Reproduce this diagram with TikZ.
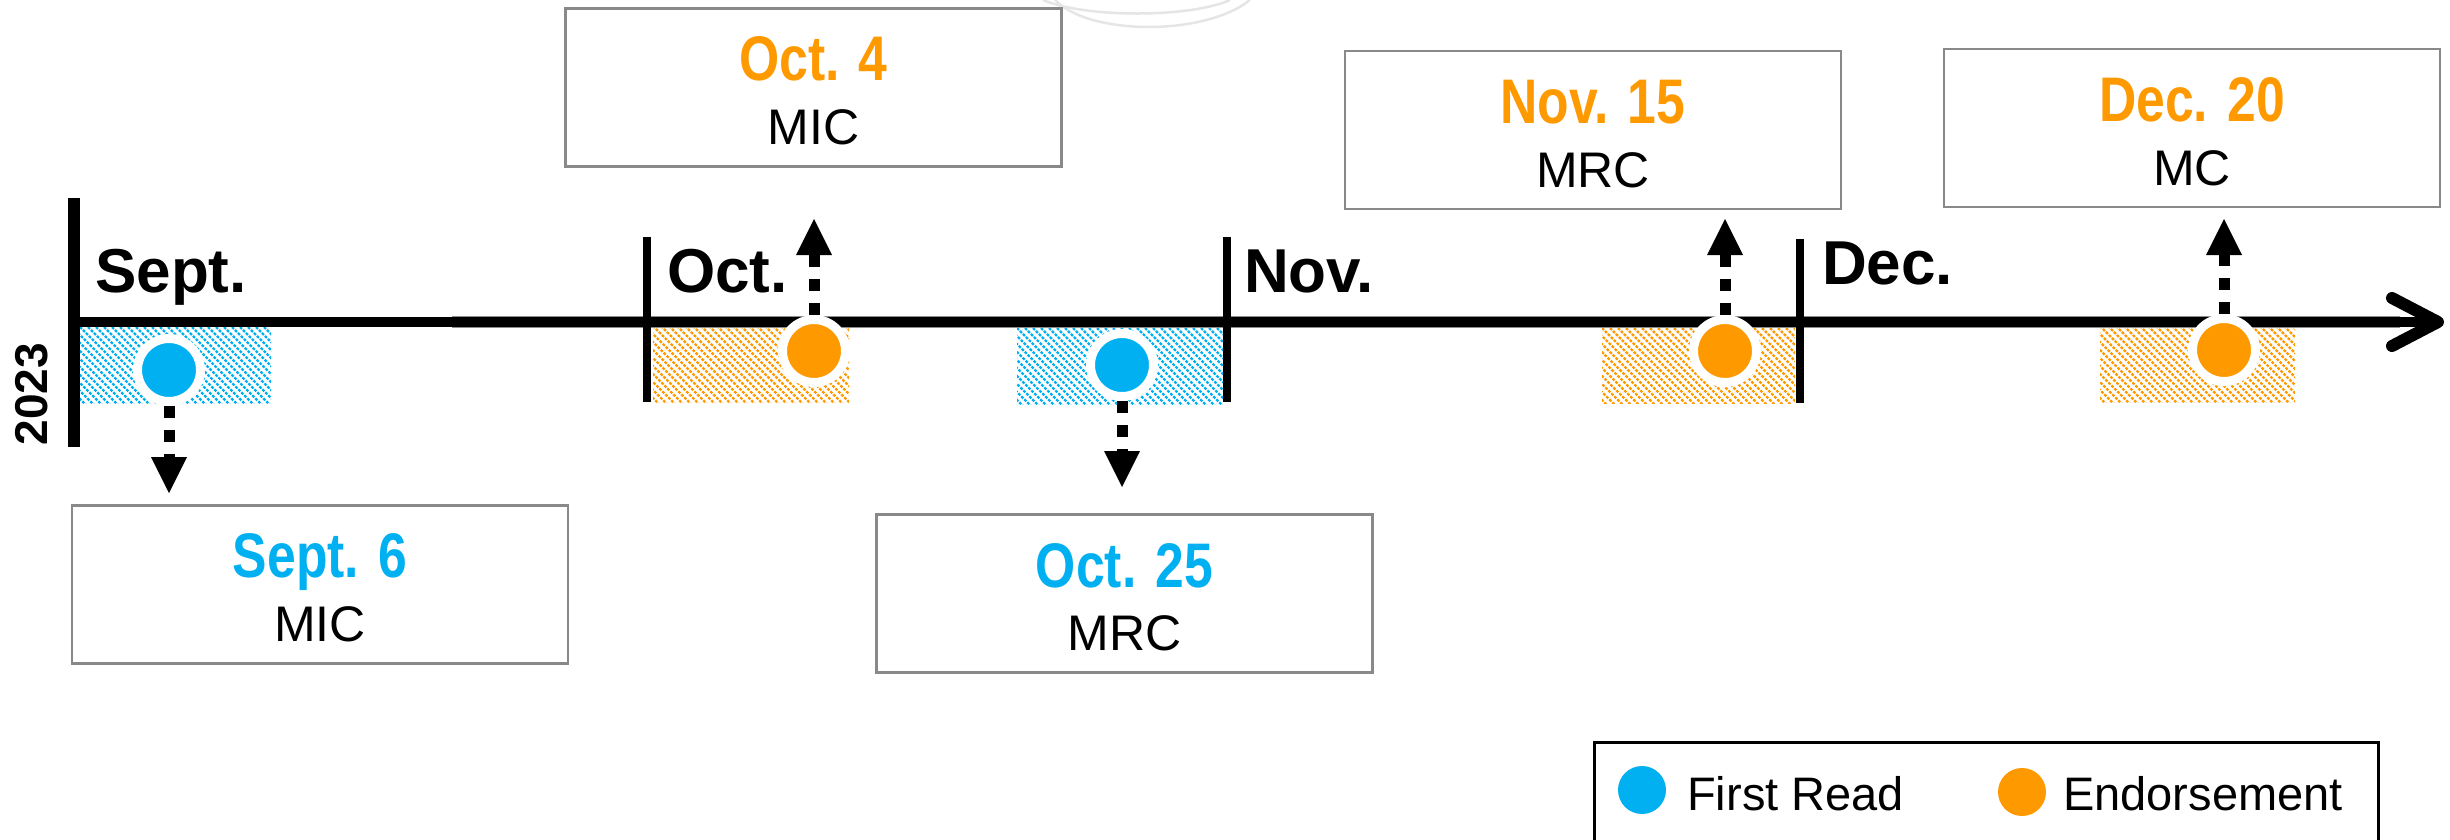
\documentclass[tikz,border=0pt]{standalone}
\usepackage{fontspec}
\setmainfont{Liberation Sans}
\newfontfamily\narrowfont[FakeStretch=0.82]{Liberation Sans}
\usetikzlibrary{arrows.meta,shadows}
\definecolor{fblue}{RGB}{0,176,240}
\definecolor{forange}{RGB}{255,153,0}
\definecolor{boxgray}{RGB}{137,137,137}
\newcommand\hatchrect[5]{%
  \begin{scope}
    \clip (#1,#2) rectangle (#3,#4);
    \foreach \k in {-88,-80,...,232}
      \draw[#5, line width=2.4pt, dash pattern=on 2.8pt off 1.4pt] (#1+\k,#2) -- ++(90,90);
  \end{scope}}
\begin{document}
\begin{tikzpicture}[x=1pt,y=-1pt,
  datebox/.style={draw=boxgray, line width=2.5pt, minimum width=496pt, minimum height=158pt, inner sep=0pt, fill=white},
  datetxt/.style={anchor=base, inner sep=0pt, font=\narrowfont\bfseries\fontsize{63}{63}\selectfont},
  bodytxt/.style={anchor=base, inner sep=0pt, font=\fontsize{50}{50}\selectfont},
  month/.style={anchor=base west, inner sep=0pt, font=\bfseries\fontsize{62}{62}\selectfont},
  dot/.style={circle, draw=white, line width=9pt, minimum size=63pt, inner sep=0pt,
    circular drop shadow={shadow xshift=1.5pt, shadow yshift=-3pt, opacity=0.3, shadow scale=1.05}},
  conn/.style={line width=11pt, dash pattern=on 12pt off 12pt, -{Triangle[width=36pt,length=36pt,line width=0pt]}},
  legdot/.style={circle, minimum size=48pt, inner sep=0pt},
  legtxt/.style={anchor=base west, inner sep=0pt, font=\fontsize{47}{47}\selectfont},
  tick/.style={line width=8pt}]
\clip (0,0) rectangle (2450,839);
\useasboundingbox (0,0) rectangle (2450,839);
% faint watermark arcs
\draw[black!10, line width=2.5pt] (1043,0) .. controls (1085,18) and (1190,18) .. (1230,0);
\draw[black!10, line width=2.5pt] (1055,0) .. controls (1090,36) and (1205,36) .. (1250,0);
% hatched periods
\hatchrect{80}{327}{271}{403}{fblue}
\hatchrect{653}{326}{849}{402}{forange}
\hatchrect{1017}{328}{1223}{404}{fblue}
\hatchrect{1602}{328}{1795}{403}{forange}
\hatchrect{2100}{326}{2295}{402}{forange}
% axis
\draw[black!45, line width=12.5pt] (452,322) -- (2400,322);
\draw[line width=10pt] (74,322) -- (2436,322);
\draw[line width=12pt, line cap=round, line join=round] (2392,298) -- (2438,322) -- (2392,346);
\draw[line width=12pt] (74,198) -- (74,447);
\draw[tick] (647,237) -- (647,402);
\draw[tick] (1227,237) -- (1227,402);
\draw[tick] (1800,239) -- (1800,403);
% month labels
\node[month] (mSep) at (95,292) {Sept.};
\node[month] (mOct) at (667,292) {Oct.};
\node[month] (mNov) at (1244,292) {Nov.};
\node[month] (mDec) at (1822,284) {Dec.};
\node[rotate=90, inner sep=0pt, font=\bfseries\fontsize{46}{46}\selectfont] (yr) at (32,394) {2023};
% milestones
\node[dot, fill=fblue] (c1) at (169,370) {};
\node[dot, fill=forange] (c2) at (814,351) {};
\node[dot, fill=fblue] (c3) at (1122,365) {};
\node[dot, fill=forange] (c4) at (1725,351) {};
\node[dot, fill=forange] (c5) at (2224,350) {};
% connectors
\coordinate (t1) at (169,493);
\coordinate (t2) at (814,219);
\coordinate (t3) at (1122,487);
\coordinate (t4) at (1725,219);
\coordinate (t5) at (2224,219);
\draw[conn] (c1) -- (t1);
\draw[conn] (c2) -- (t2);
\draw[conn] (c3) -- (t3);
\draw[conn] (c4) -- (t4);
\draw[conn] (c5) -- (t5);
% boxes
\node[datebox] (b1) at (320,584.5) {};
\node[datebox] (b2) at (813.5,87.5) {};
\node[datebox] (b3) at (1124.5,593.5) {};
\node[datebox] (b4) at (1593,130) {};
\node[datebox] (b5) at (2192,128) {};
\node[datetxt, fblue] (d1) at (320,577) {Sept. 6};
\node[bodytxt] (l1) at (320,641) {MIC};
\node[datetxt, forange] (d2) at (813.5,80) {Oct. 4};
\node[bodytxt] (l2) at (813.5,144) {MIC};
\node[datetxt, fblue] (d3) at (1124.5,587) {Oct. 25};
\node[bodytxt] (l3) at (1124.5,650) {MRC};
\node[datetxt, forange] (d4) at (1593,123) {Nov. 15};
\node[bodytxt] (l4) at (1593,187) {MRC};
\node[datetxt, forange] (d5) at (2192,121) {Dec. 20};
\node[bodytxt] (l5) at (2192,185) {MC};
% legend
\node[draw, line width=2.5pt, minimum width=784pt, minimum height=140pt, inner sep=0pt, anchor=north west] (leg) at (1593,741) {};
\node[legdot, fill=fblue] (ld1) at (1642,790) {};
\node[legtxt] (lt1) at (1687,810) {First Read};
\node[legdot, fill=forange] (ld2) at (2022,792) {};
\node[legtxt] (lt2) at (2063,810) {Endorsement};
\end{tikzpicture}
\end{document}
